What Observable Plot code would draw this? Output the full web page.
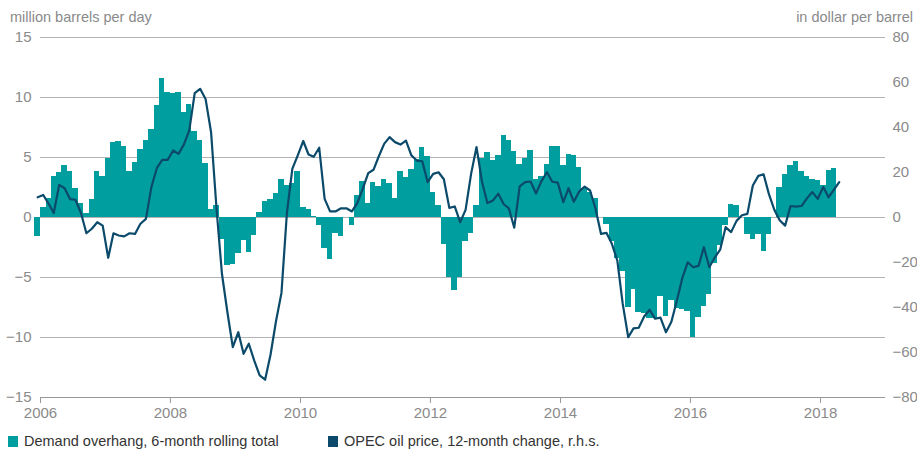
<!DOCTYPE html>
<html>
<head>
<meta charset="utf-8">
<script src="https://cdn.jsdelivr.net/npm/d3@7"></script>
<script src="https://cdn.jsdelivr.net/npm/@observablehq/plot@0.6"></script>
<style>
  body { margin: 0; background: #fff; font-family: "Liberation Sans", Arial, sans-serif; }
  #wrap { position: relative; width: 917px; height: 452px; overflow: hidden; }
  #wrap svg { position: absolute; left: 0; top: 0; }
  .sub { position: absolute; top: 8px; font-size: 14.5px; line-height: 18px; color: #8a8a8a; white-space: nowrap; }
  .leg { position: absolute; top: 432px; font-size: 14.5px; line-height: 18px; color: #333; white-space: nowrap; display: flex; align-items: center; }
  .sw { display: inline-block; width: 10px; height: 11px; margin-right: 6px; }
</style>
</head>
<body>
<div id="wrap"></div>
<script>
// ---------- data ----------
const firstMonth = "2005-12-01"; // first month of both series

// Demand overhang, 6-month rolling total (million barrels per day), monthly Dec 2005 .. Mar 2018
const demandOverhang = [
  -1.6,
  0.8, 1.6, 3.45, 3.75, 4.3, 3.8, 2.45, 1.2, 0.3, 1.5, 3.8, 3.4,
  4.95, 6.25, 6.35, 5.9, 3.8, 4.6, 5.7, 6.4, 7.3, 9.3, 11.6, 10.4,
  10.35, 10.4, 8.75, 9.4, 7.15, 6.45, 4.5, 0.65, 1.0, -1.8, -4.0, -3.9,
  -3.0, -1.9, -2.9, -1.5, 0.45, 1.3, 1.5, 2.0, 3.2, 2.7, 2.8, 3.8,
  0.85, 0.7, 0.1, -0.7, -2.6, -3.5, -1.3, -1.55, 0, -0.67, 1.8, 3.0,
  1.2, 2.9, 2.6, 3.2, 2.8, 1.6, 3.8, 3.3, 4.0, 4.8, 5.8, 5.1,
  2.1, 1.0, -2.25, -5.0, -6.1, -5.0, -2.0, -1.3, 1.0, 4.9, 5.4, 4.75,
  5.2, 6.8, 6.4, 5.5, 4.4, 4.9, 5.6, 3.2, 3.4, 4.4, 5.9, 5.9,
  4.3, 5.25, 5.2, 4.2, 2.4, 2.1, 1.6, 0, -0.6, -2.0, -3.4, -4.5,
  -7.5, -6.0, -7.9, -8.0, -8.4, -8.4, -6.6, -8.25, -6.9, -7.6, -7.7, -7.8,
  -10.0, -8.3, -7.4, -6.4, -3.8, -2.3, -0.7, 1.05, 1.0, 0, -1.4, -1.8,
  -1.4, -2.8, -1.45, 0, 2.5, 3.6, 4.3, 4.7, 3.8, 3.4, 3.2, 3.1,
  2.7, 3.9, 4.05
];

// OPEC oil price, 12-month change (dollar per barrel, r.h.s.), monthly Dec 2005 .. Apr 2018
const oilPriceChange = [
  9.0,
  10.0, 6.2, 2.0, 14.5, 13.0, 8.2, 7.9, 2.0, -7.0, -5.0, -2.1, -3.6,
  -17.9, -7.0, -8.0, -8.4, -7.0, -7.3, -2.8, -0.6, 13.5, 21.9, 25.6, 25.6,
  29.8, 28.3, 32.4, 38.7, 55.3, 57.2, 52.7, 37.9, 4, -25, -42, -57.6,
  -51, -60.6, -56.1, -63.6, -70.2, -72.1, -61, -46, -33.5, 2, 21.6, 27.6,
  34, 28, 27, 31, 8.3, 2.7, 2.7, 4.1, 4.1, 2.7, 6.4, 12.7,
  19.7, 21.2, 27.1, 32.7, 35.7, 33.5, 32.4, 34.2, 27.6, 25.3, 25, 15.7,
  19.4, 20.1, 17.0, 4.3, 4.9, -2.1, 3.4, 19.4, 31.3, 16, 6.4, 7.5,
  10.6, 6, 4.1, -4.5, 13.8, 15.7, 16, 10.7, 16.2, 20.1, 15.9, 15.5,
  6.8, 13, 7, 11.6, 13.7, 12, 4, -7.3, -6.8, -11.7, -19.1, -38.4,
  -53.2, -49.3, -49, -44, -41, -45, -44.5, -51, -46.3, -37, -27, -19.9,
  -22.1, -21.5, -13.2, -22.1, -17.8, -14.3, -4.3, -6.5, -1.5, 1.0, 1.6, 14.2,
  18.5, 19.2, 10.5, 3.5, -1.2, -3.6, 5.1, 4.8, 5.1, 8.5, 11.3, 8.3,
  13.6, 9, 12.3, 15.7
];

const leftTicks = [-15, -10, -5, 0, 5, 10, 15];
const rightTicks = [-80, -60, -40, -20, 0, 20, 40, 60, 80];
const yearTicks = [2006, 2008, 2010, 2012, 2014, 2016, 2018];
const xDomainYears = [2006, 2019];

const leftTitle = "million barrels per day";
const rightTitle = "in dollar per barrel";
const barLabel = "Demand overhang, 6-month rolling total";
const lineLabel = "OPEC oil price, 12-month change, r.h.s.";

const barColor = "#009e9f";
const lineColor = "#0b4a6a";
const gridColor = "#b3b3b3";
const textGray = "#8a8a8a";

// ---------- derived tables ----------
const start = new Date(firstMonth + "T00:00:00Z");
const bars = demandOverhang.map((v, i) => {
  const d0 = d3.utcMonth.offset(start, i);
  return { start: d0, end: d3.utcMonth.offset(d0, 1), value: v };
});
const prices = oilPriceChange.map((v, i) => {
  const d0 = d3.utcMonth.offset(start, i);
  const d1 = d3.utcMonth.offset(d0, 1);
  return { date: new Date((+d0 + +d1) / 2), value: v };
});
const ratio = 15 / 80; // right axis -> left axis
const minus = (v) => (v < 0 ? "\u2212" + Math.abs(v) : String(v));
const yearDate = (y) => new Date(Date.UTC(y, 0, 1));

const chart = Plot.plot({
  width: 917,
  height: 452,
  marginTop: 37,
  marginBottom: 55,
  marginLeft: 40,
  marginRight: 32,
  style: { fontFamily: "'Liberation Sans', Arial, sans-serif", fontSize: "15px", color: textGray, background: "transparent" },
  x: { type: "utc", domain: xDomainYears.map(yearDate), axis: null },
  y: { domain: [-15, 15], axis: null },
  marks: [
    Plot.ruleY(leftTicks.filter((t) => t > -15), { stroke: gridColor, strokeWidth: 1 }),
    Plot.rect(bars, { x1: "start", x2: "end", y1: 0, y2: "value", fill: barColor, shapeRendering: "crispEdges" }),
    Plot.ruleY([-15], { stroke: "#999", strokeWidth: 1 }),
    Plot.line(prices, { x: "date", y: (d) => d.value * ratio, stroke: lineColor, strokeWidth: 2.2, strokeLinejoin: "round" }),
    Plot.axisY(leftTicks, { anchor: "left", label: null, tickSize: 0, tickPadding: 9, fontSize: 15, tickFormat: minus, fill: textGray }),
    Plot.axisY(rightTicks.map((t) => t * ratio), { anchor: "right", label: null, tickSize: 0, tickPadding: 7, fontSize: 15, fill: textGray, tickFormat: (d) => minus(Math.round(d / ratio)) }),
    Plot.axisX(yearTicks.map(yearDate), { anchor: "bottom", label: null, tickSize: 6, tickPadding: 4, fontSize: 15, stroke: "#999", fill: textGray, tickFormat: (d) => String(d.getUTCFullYear()) })
  ]
});

const wrap = document.getElementById("wrap");
wrap.appendChild(chart);

const lt = document.createElement("div");
lt.className = "sub"; lt.style.left = "10px"; lt.textContent = leftTitle;
wrap.appendChild(lt);
const rt = document.createElement("div");
rt.className = "sub"; rt.style.right = "4px"; rt.textContent = rightTitle;
wrap.appendChild(rt);

function legendItem(left, color, label) {
  const el = document.createElement("div");
  el.className = "leg"; el.style.left = left + "px";
  const sw = document.createElement("span");
  sw.className = "sw"; sw.style.background = color;
  el.appendChild(sw);
  el.appendChild(document.createTextNode(label));
  wrap.appendChild(el);
}
legendItem(8, barColor, barLabel);
legendItem(328, lineColor, lineLabel);
</script>
</body>
</html>
